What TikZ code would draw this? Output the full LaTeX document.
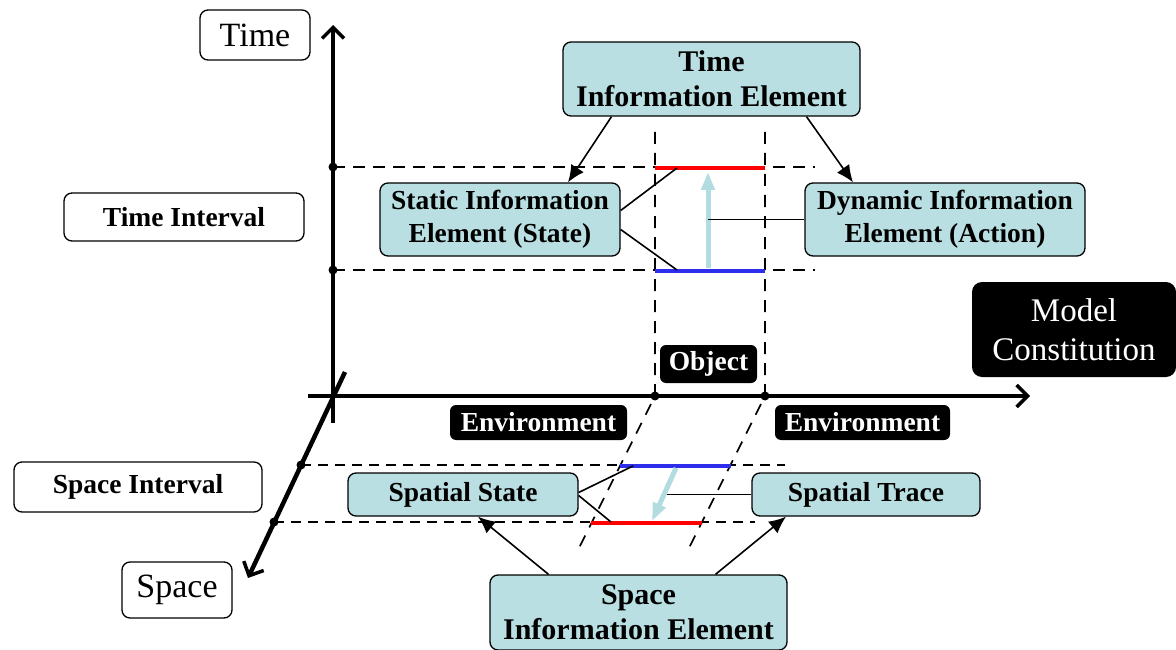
\documentclass[tikz,border=0pt]{standalone}
\usepackage{fontspec}
\setmainfont{Liberation Serif}
\usetikzlibrary{arrows.meta}
\definecolor{boxBlue}{RGB}{185,223,226}
\definecolor{arrowBlue}{RGB}{178,220,224}
\definecolor{lineBlue}{RGB}{45,45,235}

\begin{document}
\begin{tikzpicture}
[x=1pt,y=-1pt,
  infoDecorate/.style={draw,line width=1.3pt,rounded corners=8pt,fill=boxBlue,align=center,inner sep=0pt,
    font=\fontsize{27.5}{33}\selectfont\bfseries},
  labelDecorate/.style={draw,line width=1.3pt,rounded corners=8pt,fill=white,align=center,inner sep=0pt,
    font=\fontsize{27.5}{33}\selectfont\bfseries},
  blackDecorate/.style={fill=black,text=white,rounded corners=6pt,align=center,inner sep=0pt,
    font=\fontsize{27.5}{33}\selectfont\bfseries},
  axisDecorate/.style={line width=4.5pt,-{Straight Barb[length=11pt,width=22pt,line width=3.5pt]}},
  timeDash/.style={line width=2.4pt,dash pattern=on 12pt off 8pt},
  spaceDash/.style={line width=1.5pt,dash pattern=on 10pt off 7pt},
  edgeDash/.style={line width=1.7pt,dash pattern=on 12pt off 9pt},
  lineDecorate/.style={line width=1.6pt},
  arrowDecorate/.style={line width=1.6pt,-{Latex[length=17pt,width=15pt]}},
  moveDecorate/.style={line width=5pt,arrowBlue,-{Triangle[length=18pt,width=13pt]}}]
\useasboundingbox (0,0) rectangle (1176,650);
%% axes and their points
\foreach \pointname/\x/\y in {
  O/333/396, timeTop/333/25, timeBottom/333/423, axisLeft/308/396, axisEnd/1030/396,
  spaceTop/345/372, spaceEnd/248/578,
  t1/333/167, t2/333/270, s1/301/465, s2/274/522,
  t1e/815/167, t2e/815/270, s1e/785/465, s2e/755/522,
  vL/655/132, vR/765/132, oL/655/396, oR/765/396, dL/578/550, dR/688/550}
{
  \coordinate (\pointname) at (\x,\y);
}
\draw[axisDecorate] (timeBottom) -- (timeTop);
\draw[axisDecorate] (axisLeft) -- (axisEnd);
\draw[axisDecorate] (spaceTop) -- (spaceEnd);
%% interval lines
\draw[timeDash] (t1) -- (t1e);
\draw[timeDash] (t2) -- (t2e);
\draw[spaceDash] (s1) -- (s1e);
\draw[spaceDash] (s2) -- (s2e);
\draw[edgeDash] (vL) -- (oL) -- (dL);
\draw[edgeDash] (vR) -- (oR) -- (dR);
\foreach \pointname in {t1, t2, s1, s2, oL, oR}
{
  \fill (\pointname) circle (4.5pt);
}
%% states of the object
\coordinate (redTopL) at (655,168);
\coordinate (redTopR) at (765,168);
\coordinate (blueTopL) at (655,271);
\coordinate (blueTopR) at (765,271);
\coordinate (blueBotL) at (620,466);
\coordinate (blueBotR) at (731,466);
\coordinate (redBotL) at (591,523);
\coordinate (redBotR) at (702,523);
\draw[red,line width=4pt] (redTopL) -- (redTopR);
\draw[lineBlue,line width=4pt] (blueTopL) -- (blueTopR);
\draw[lineBlue,line width=4pt] (blueBotL) -- (blueBotR);
\draw[red,line width=4pt] (redBotL) -- (redBotR);
\coordinate (actStart) at (708,268);
\coordinate (actEnd) at (708,172);
\coordinate (traceStart) at (676,468);
\coordinate (traceEnd) at (652,521);
\draw[moveDecorate] (actStart) -- (actEnd);
\draw[moveDecorate] (traceStart) -- (traceEnd);
%% boxes
\node (timeLabel) at (255,35) [labelDecorate,minimum width=110,minimum height=50,
  font=\fontsize{34}{40}\selectfont] {Time};
\node (spaceLabel) at (177,590) [labelDecorate,minimum width=110,minimum height=56,
  font=\fontsize{34}{40}\selectfont] {Space};
\node (timeInt) at (184,217) [labelDecorate,minimum width=240,minimum height=48] {Time Interval};
\node (spaceInt) at (138,487) [labelDecorate,minimum width=248,minimum height=50] {Space Interval};
\node (timeIE) at (711.5,79) [infoDecorate,minimum width=297,minimum height=74,
  font=\fontsize{30}{35}\selectfont\bfseries] {Time\\Information Element};
\node (staticIE) at (500,219.5) [infoDecorate,minimum width=240,minimum height=73]
  {Static Information\\Element (State)};
\node (dynamicIE) at (945,219.5) [infoDecorate,minimum width=280,minimum height=73]
  {Dynamic Information\\Element (Action)};
\node (spaceIE) at (638.5,612.5) [infoDecorate,minimum width=297,minimum height=75,
  font=\fontsize{30}{35}\selectfont\bfseries] {Space\\Information Element};
\node (spState) at (463,494.5) [infoDecorate,minimum width=230,minimum height=43] {Spatial State};
\node (spTrace) at (866,494.5) [infoDecorate,minimum width=228,minimum height=43] {Spatial Trace};
\node (object) at (708.5,364) [blackDecorate,minimum width=97,minimum height=38] {Object};
\node (envLeft) at (538.5,422.5) [blackDecorate,minimum width=177,minimum height=35] {Environment};
\node (envRight) at (862.5,422.5) [blackDecorate,minimum width=175,minimum height=35] {Environment};
\node (model) at (1074,329.5) [blackDecorate,rounded corners=10pt,minimum width=204,minimum height=95,
  font=\fontsize{33}{39}\selectfont] {Model\\Constitution};
%% connectors
\draw[arrowDecorate] ([xshift=-100pt]timeIE.south) -- ([xshift=68pt]staticIE.north);
\draw[arrowDecorate] ([xshift=95pt]timeIE.south) -- ([xshift=-92pt]dynamicIE.north);
\draw[lineDecorate] ([yshift=9pt]staticIE.east) -- (677,168);
\draw[lineDecorate] ([yshift=-10pt]staticIE.east) -- (677,270);
\draw[lineDecorate] (dynamicIE.west) -- (708,219.5);
\draw[arrowDecorate] ([xshift=-90pt]spaceIE.north) -- ([xshift=15pt]spState.south);
\draw[arrowDecorate] ([xshift=77pt]spaceIE.north) -- ([xshift=-80pt]spTrace.south);
\draw[lineDecorate] ([yshift=2pt]spState.east) -- (633,466);
\draw[lineDecorate] ([yshift=-1pt]spState.east) -- (611,522);
\draw[lineDecorate] (spTrace.west) -- (667,494.5);
\end{tikzpicture}
\end{document}
